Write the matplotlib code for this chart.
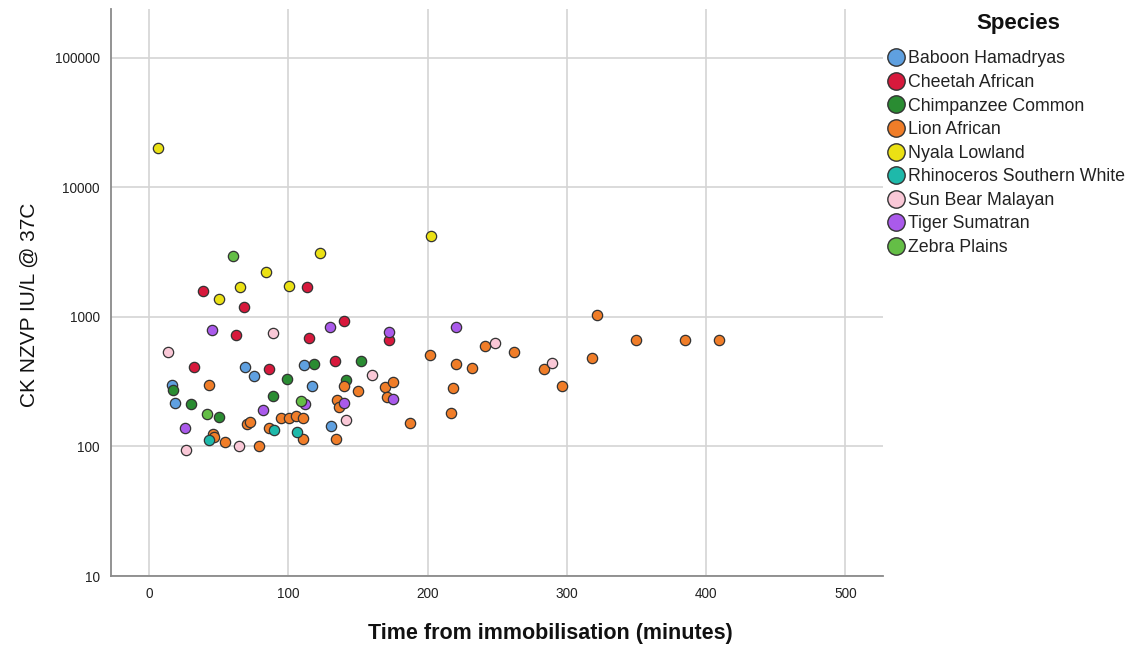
import matplotlib
matplotlib.use("Agg")
import matplotlib.pyplot as plt
from matplotlib.lines import Line2D
from matplotlib.ticker import FixedLocator, FixedFormatter, NullLocator

plt.rcParams['font.family'] = ['Liberation Sans', 'DejaVu Sans']

# CK readings (IU/L) against minutes since immobilisation, per species
baboon_t = [16.5, 18.4, 69.2, 75.4, 111.0, 117.0, 130.3]
baboon_ck = [301, 218, 410, 350, 422, 291, 145]

cheetah_t = [38.4, 68.2, 113.5, 32.3, 62.5, 86.4, 115.0, 133.3, 140.3, 172.2]
cheetah_ck = [1590, 1190, 1700, 410, 720, 400, 690, 460, 927, 665]

chimp_t = [17.5, 30.4, 50.3, 89.3, 99.4, 118.7, 141.5, 152.3]
chimp_ck = [273, 211, 170, 247, 332, 430, 326, 455]

lion_t = [43.3, 45.8, 46.9, 54.6, 70.2, 72.2, 79.2, 86.2, 94.6, 100.6, 105.4, 110.4,
          110.4, 134.5, 135.3, 136.7, 140.3, 150.3, 169.3, 170.8, 175.1, 187.1,
          201.9, 217.0, 218.2, 220.2, 232.0, 241.0, 262.2, 283.8, 296.2, 317.7,
          322.0, 349.9, 384.6, 409.0]
lion_ck = [298, 124, 119, 108, 149, 155, 100, 138, 167, 167, 171, 166,
           115, 115, 230, 202, 291, 270, 289, 241, 312, 151,
           513, 180, 283, 433, 405, 598, 538, 398, 293, 478,
           1042, 662, 662, 662]

nyala_t = [6.5, 50.5, 65.4, 84.3, 100.6, 122.8, 202.6]
nyala_ck = [20300, 1375, 1700, 2208, 1730, 3100, 4200]

rhino_t = [43.1, 89.4, 106.5]
rhino_ck = [113, 133, 130]

sunbear_t = [13.6, 26.6, 64.3, 89.1, 141.2, 160.2, 248.2, 289.3]
sunbear_ck = [538, 94, 100, 753, 160, 358, 631, 443]

tiger_t = [25.5, 45.3, 82.1, 111.7, 130.2, 140.3, 172.2, 175.5, 220.2]
tiger_ck = [139, 791, 193, 211, 833, 215, 767, 233, 835]

zebra_t = [60.3, 41.5, 109.4]
zebra_ck = [2940, 177, 223]

species = ["Baboon Hamadryas", "Cheetah African", "Chimpanzee Common", "Lion African",
           "Nyala Lowland", "Rhinoceros Southern White", "Sun Bear Malayan",
           "Tiger Sumatran", "Zebra Plains"]
times = [baboon_t, cheetah_t, chimp_t, lion_t, nyala_t, rhino_t, sunbear_t, tiger_t, zebra_t]
values = [baboon_ck, cheetah_ck, chimp_ck, lion_ck, nyala_ck, rhino_ck, sunbear_ck, tiger_ck, zebra_ck]
colors = ['#5fa0e0', '#d7193c', '#2a8c32', '#f07d28', '#ebe114',
          '#1eb9aa', '#fac8d7', '#aa5aeb', '#64be46']

y_ticks = [10, 100, 1000, 10000, 100000]
x_ticks = [0, 100, 200, 300, 400, 500]

fig = plt.figure(figsize=(11.46, 6.5), dpi=100)
ax = fig.add_axes([0.0969, 0.1138, 0.6736, 0.8722])

for t, ck, c in zip(times, values, colors):
    ax.scatter(t, ck, s=55, color=c, edgecolors='#333333', linewidths=0.9, zorder=3)

ax.set_yscale('log')
ax.set_ylim(10, 238000)
ax.set_xlim(-27.3, 527)
ax.yaxis.set_major_locator(FixedLocator(y_ticks))
ax.yaxis.set_major_formatter(FixedFormatter([str(v) for v in y_ticks]))
ax.yaxis.set_minor_locator(NullLocator())
ax.set_xticks(x_ticks)
ax.tick_params(length=0, labelsize=9.8, colors='#222222', pad=8)
ax.grid(True, color='#d4d4d4', linewidth=1.2, zorder=0)
ax.set_axisbelow(True)

for side in ['top', 'right']:
    ax.spines[side].set_visible(False)
for side in ['left', 'bottom']:
    ax.spines[side].set_color('#8a8a8a')
    ax.spines[side].set_linewidth(1.3)

ax.set_ylabel("CK NZVP IU/L @ 37C", fontsize=15, color='#111111')
ax.yaxis.set_label_coords(-0.094, 0.478)
fig.text(550 / 1146, 1 - 634 / 650, "Time from immobilisation (minutes)",
         fontsize=15.5, fontweight='bold', ha='center', va='center', color='#111111')

# legend title sits apart from the entries
fig.text(1018 / 1146, 1 - 23 / 650, "Species", fontsize=16, fontweight='bold',
         ha='center', va='center', color='#111111')
handles = [Line2D([], [], marker='o', linestyle='', markersize=12.5,
                  markerfacecolor=c, markeredgecolor='#333333', markeredgewidth=1.0)
           for c in colors]
leg = fig.legend(handles, species, loc='upper left', bbox_to_anchor=(876 / 1146, 1 - 38 / 650),
                 frameon=False, fontsize=12.8,
                 handlelength=0.9, handletextpad=0.2, labelspacing=0.37,
                 borderpad=0.2)
for txt in leg.get_texts():
    txt.set_color('#222222')

fig.savefig("out.png", dpi=100)
